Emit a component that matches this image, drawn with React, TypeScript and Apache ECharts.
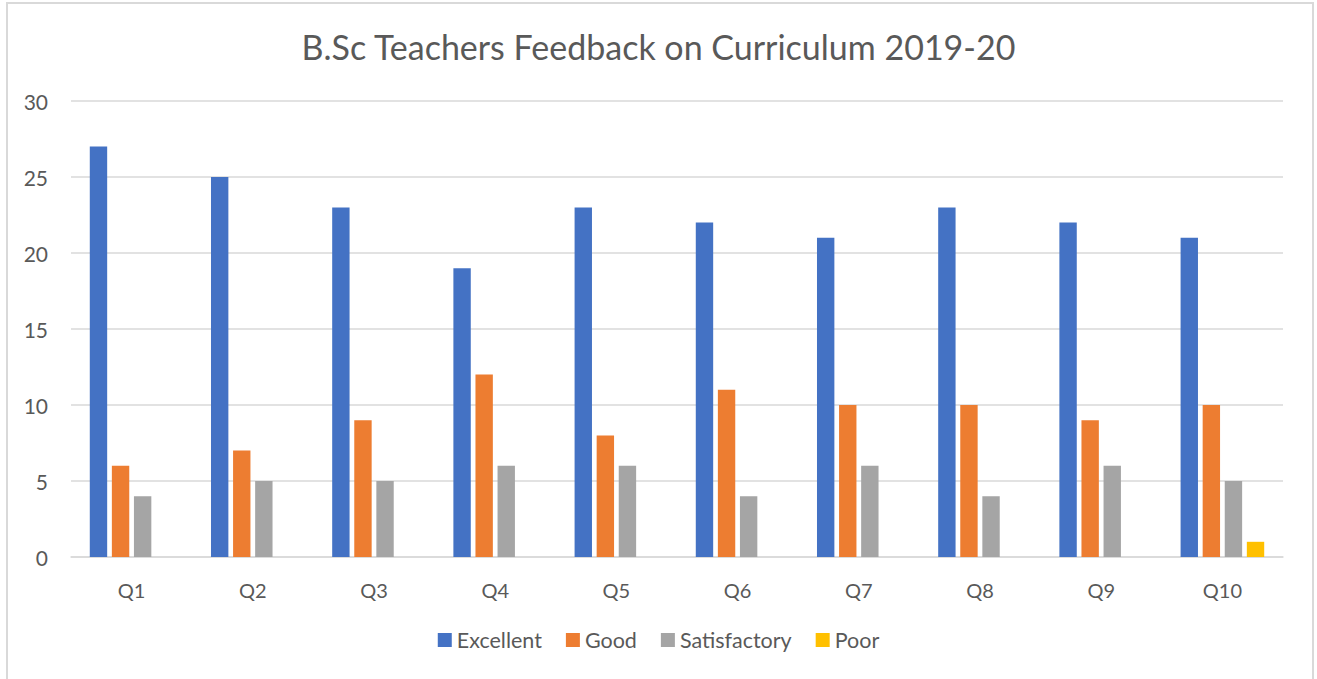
import React, { useEffect, useRef } from "react";
import * as echarts from "echarts";

const categories = ["Q1", "Q2", "Q3", "Q4", "Q5", "Q6", "Q7", "Q8", "Q9", "Q10"];
const excellent = [27, 25, 23, 19, 23, 22, 21, 23, 22, 21];
const good = [6, 7, 9, 12, 8, 11, 10, 10, 9, 10];
const satisfactory = [4, 5, 5, 6, 6, 4, 6, 4, 6, 5];
const poor = [0, 0, 0, 0, 0, 0, 0, 0, 0, 1];
const seriesNames = ["Excellent", "Good", "Satisfactory", "Poor"];
const colors = ["#4472C4", "#ED7D31", "#A5A5A5", "#FFC000"];

const FONT = "Lato";
const TXT = "#595959";

export default function App() {
  const ref = useRef<HTMLDivElement>(null);
  useEffect(() => {
    document.body.style.margin = "0";
    const chart = echarts.init(ref.current!, undefined, { renderer: "svg" });
    const data = [excellent, good, satisfactory, poor];
    chart.setOption({
      animation: false,
      backgroundColor: "#ffffff",
      color: colors,
      textStyle: { fontFamily: FONT },
      title: {
        text: "B.Sc Teachers Feedback on Curriculum 2019-20",
        left: "center",
        top: 24,
        textStyle: { fontFamily: FONT, fontSize: 34, fontWeight: "normal", color: TXT },
      },
      graphic: [
        {
          type: "rect",
          shape: { x: 7, y: 3, width: 1306, height: 720 },
          style: { fill: "none", stroke: "#D9D9D9", lineWidth: 2 },
          silent: true,
        },
      ],
      legend: {
        bottom: 23,
        left: "center",
        itemWidth: 14,
        itemHeight: 14,
        itemGap: 24,
        icon: "rect",
        textStyle: { fontFamily: FONT, fontSize: 21.5, color: TXT },
        data: seriesNames,
      },
      grid: { left: 71, right: 34, top: 101, bottom: 122, containLabel: false },
      xAxis: {
        type: "category",
        data: categories,
        axisLine: { lineStyle: { color: "#D9D9D9", width: 1.5 } },
        axisTick: { show: false },
        axisLabel: { fontFamily: FONT, fontSize: 20, color: TXT, margin: 23 },
      },
      yAxis: {
        type: "value",
        min: 0,
        max: 30,
        interval: 5,
        axisLine: { show: false },
        axisTick: { show: false },
        splitLine: { lineStyle: { color: "#D9D9D9", width: 1.5 } },
        axisLabel: { fontFamily: FONT, fontSize: 21, color: TXT, margin: 23 },
      },
      series: seriesNames.map((n, i) => ({
        name: n,
        type: "bar",
        data: data[i],
        barGap: "27%",
        barCategoryGap: "31%",
        itemStyle: { color: colors[i] },
      })),
    });
    return () => chart.dispose();
  }, []);
  return <div ref={ref} style={{ width: 1317, height: 679 }} />;
}
